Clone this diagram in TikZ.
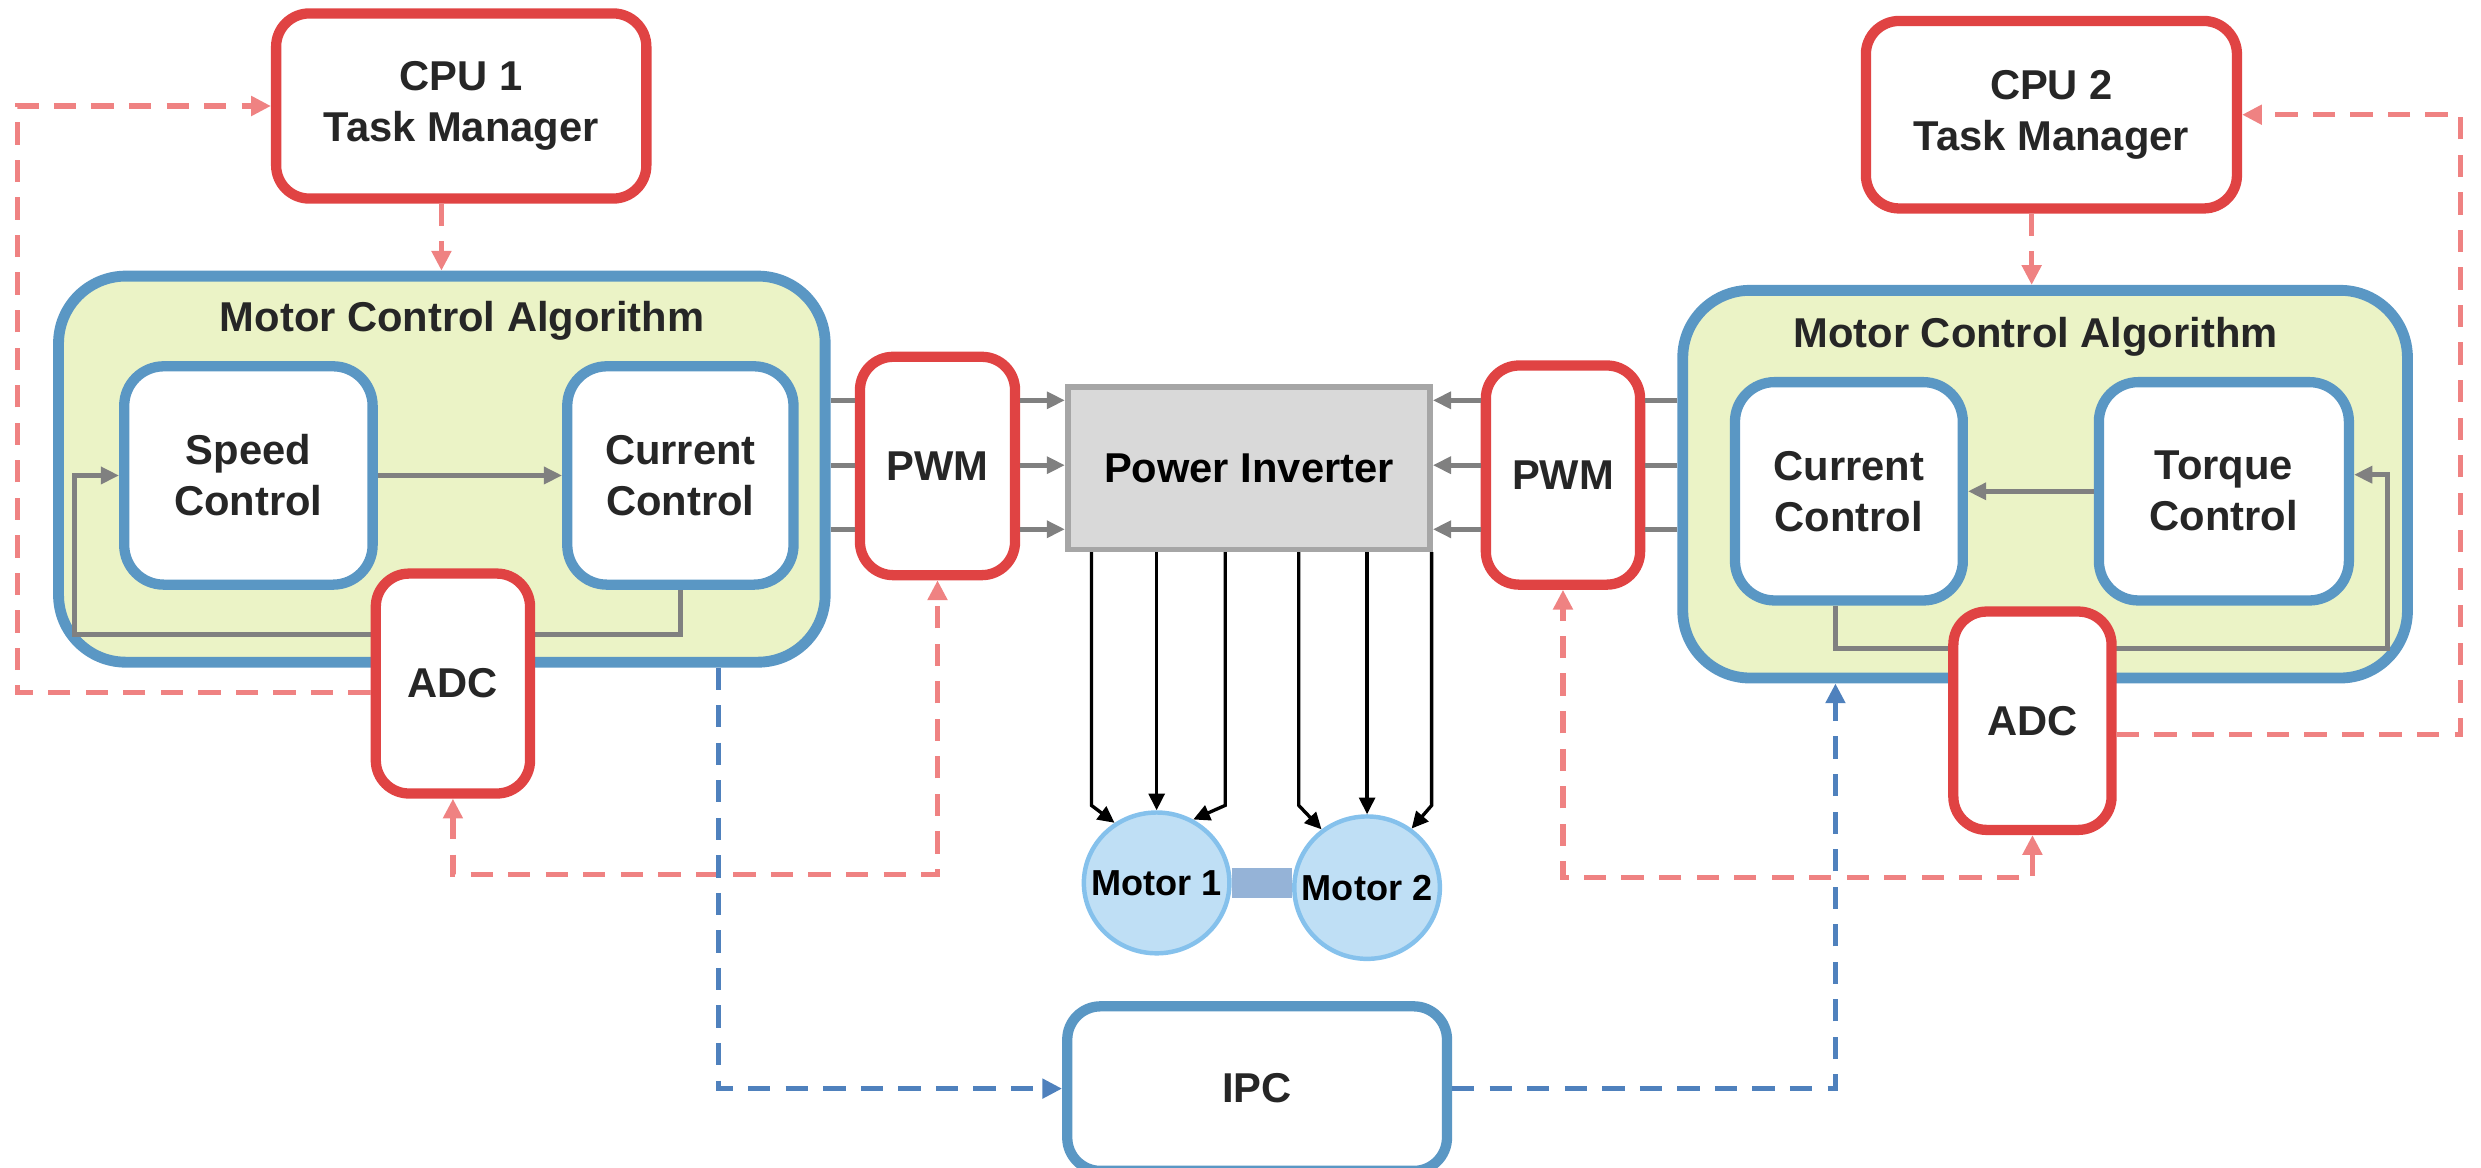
\documentclass[tikz,border=0pt]{standalone}
\usepackage{fontspec}
\setmainfont{Liberation Sans}
\usetikzlibrary{arrows.meta,shapes.geometric}
\definecolor{boxred}{HTML}{E04343}
\definecolor{boxblue}{HTML}{5A97C4}
\definecolor{algfill}{HTML}{EBF3C6}
\definecolor{invfill}{HTML}{D9D9D9}
\definecolor{invline}{HTML}{A6A6A6}
\definecolor{motfill}{HTML}{BFDFF5}
\definecolor{motline}{HTML}{85C1EC}
\definecolor{shaft}{HTML}{95B3D7}
\definecolor{sigred}{HTML}{EF8282}
\definecolor{sigblue}{HTML}{4F81BD}
\definecolor{sigrey}{HTML}{808080}
\definecolor{txt}{HTML}{262626}
\begin{document}
\begin{tikzpicture}[font=\fontsize{15}{18.3}\selectfont\bfseries,text=txt,
  >={Triangle[length=0.25cm,width=0.24cm]},
  rbox/.style={draw=boxred,line width=3.7pt,rounded corners=0.42cm,fill=white,align=center,inner sep=2pt},
  cbox/.style={draw=boxblue,line width=3.7pt,rounded corners=0.5cm,fill=white,align=center,inner sep=2pt},
  alg/.style={draw=boxblue,line width=3.9pt,rounded corners=0.85cm,fill=algfill},
  inverter/.style={draw=invline,line width=2pt,fill=invfill,text=black},
  motor/.style={ellipse,draw=motline,line width=1.6pt,fill=motfill,inner sep=0pt,font=\fontsize{13}{15}\selectfont\bfseries,text=black},
  gline/.style={draw=sigrey,line width=1.8pt},
  garr/.style={gline,-{Triangle[length=0.23cm,width=0.21cm]}},
  marr/.style={draw=black,line width=1.2pt,-{Triangle[length=0.21cm,width=0.2cm]}},
  rdash/.style={draw=sigred,line width=1.9pt,dash pattern=on 8pt off 5.5pt},
  bdash/.style={draw=sigblue,line width=1.9pt,dash pattern=on 8pt off 5.5pt}]
  \useasboundingbox (0,0) rectangle (31.36,-14.76);
  \coordinate (lft) at (0.22,0);
  \coordinate (rgt) at (31.1,0);
  \node[alg,minimum width=9.69cm,minimum height=4.88cm] (mca1) at (5.585,-5.93){};
  \node[alg,minimum width=9.16cm,minimum height=4.90cm] (mca2) at (25.85,-6.12){};
  \node[anchor=base] (mca1t) at (5.84,-4.19){Motor Control Algorithm};
  \node[anchor=base] (mca2t) at (25.73,-4.39){Motor Control Algorithm};
  \node[rbox,minimum width=4.68cm,minimum height=2.34cm] (cpu1) at (5.83,-1.34){CPU 1\\Task Manager};
  \node[rbox,minimum width=4.69cm,minimum height=2.37cm] (cpu2) at (25.93,-1.45){CPU 2\\Task Manager};
  \node[cbox,minimum width=3.14cm,minimum height=2.76cm] (spd) at (3.14,-6.01){Speed\\Control};
  \node[cbox,minimum width=2.86cm,minimum height=2.76cm] (curl) at (8.60,-6.01){Current\\Control};
  \node[cbox,minimum width=2.88cm,minimum height=2.76cm] (curr) at (23.37,-6.21){Current\\Control};
  \node[cbox,minimum width=3.16cm,minimum height=2.76cm] (tq) at (28.11,-6.21){Torque\\Control};
  \node[rbox,minimum width=1.96cm,minimum height=2.76cm] (pwm1) at (11.85,-5.89){PWM};
  \node[rbox,minimum width=1.95cm,minimum height=2.77cm] (pwm2) at (19.756,-6.005){PWM};
  \node[inverter,minimum width=4.58cm,minimum height=2.05cm] (inv) at (15.786,-5.92){Power Inverter};
  \node[motor,minimum width=1.84cm,minimum height=1.78cm] (m1) at (14.62,-11.16){\makebox[0pt]{Motor 1}};
  \node[motor,minimum width=1.84cm,minimum height=1.80cm] (m2) at (17.28,-11.22){\makebox[0pt]{Motor 2}};
  \node[cbox,rounded corners=0.42cm,minimum width=4.80cm,minimum height=2.08cm] (ipc) at (15.89,-13.76){IPC};
  \draw[draw=shaft,line width=0.38cm] (m1.east) -- (m1.east -| m2.west);
  \draw[garr] (spd.east) -- (curl.west);
  \draw[garr] (curl.south) -- ++(0,-0.56) -| ([xshift=-0.56cm]spd.west) -- (spd.west);
  \draw[garr] (tq.west) -- (curr.east);
  \draw[garr] ([xshift=-0.17cm]curr.south) -- ++(0,-0.54) -| ([xshift=0.42cm,yshift=0.21cm]tq.east) -- ([yshift=0.21cm]tq.east);
  \node[rbox,minimum width=1.95cm,minimum height=2.78cm] (adc1) at (5.725,-8.64){ADC};
  \node[rbox,minimum width=2.0cm,minimum height=2.76cm] (adc2) at (25.69,-9.11){ADC};
  \foreach \dy in {0.86,0.04,-0.77}{
    \draw[gline] ([yshift=\dy cm]inv.west -| mca1.east) -- ([yshift=\dy cm]inv.west -| pwm1.west);
    \draw[garr] ([yshift=\dy cm]inv.west -| pwm1.east) -- ([yshift=\dy cm]inv.west);
    \draw[gline] ([yshift=\dy cm]inv.east -| mca2.west) -- ([yshift=\dy cm]inv.east -| pwm2.east);
    \draw[garr] ([yshift=\dy cm]inv.east -| pwm2.west) -- ([yshift=\dy cm]inv.east);
  }
  \draw[marr] ([xshift=-1.99cm]inv.south) -- ++(0,-3.2) -- (m1.125);
  \draw[marr] (m1.north |- inv.south) -- (m1.north);
  \draw[marr] ([xshift=-0.30cm]inv.south) -- ++(0,-3.2) -- (m1.60);
  \draw[marr] ([xshift=0.63cm]inv.south) -- ++(0,-3.2) -- (m2.128);
  \draw[marr] (m2.north |- inv.south) -- (m2.north);
  \draw[marr] ([xshift=2.31cm]inv.south) -- ++(0,-3.2) -- (m2.53);
  \draw[rdash,->] ([yshift=-0.11cm]adc1.west) -| (lft |- cpu1.west) -- (cpu1.west);
  \draw[rdash,->] ([xshift=-0.25cm]cpu1.south) -- ([xshift=-0.25cm]cpu1.south |- mca1.north);
  \draw[rdash,<->] (adc1.south) -- ++(0,-0.96) -| (pwm1.south);
  \draw[rdash,->] ([yshift=-0.17cm]adc2.east) -| (rgt |- cpu2.east) -- (cpu2.east);
  \draw[rdash,->] ([xshift=-0.25cm]cpu2.south) -- ([xshift=-0.25cm]cpu2.south |- mca2.north);
  \draw[rdash,<->] (adc2.south) -- ++(0,-0.54) -| (pwm2.south);
  \draw[bdash,->] ([xshift=3.5cm]mca1.south) |- (ipc.west);
  \draw[bdash,->] (ipc.east) -| ([xshift=-2.65cm]mca2.south);
\end{tikzpicture}
\end{document}
